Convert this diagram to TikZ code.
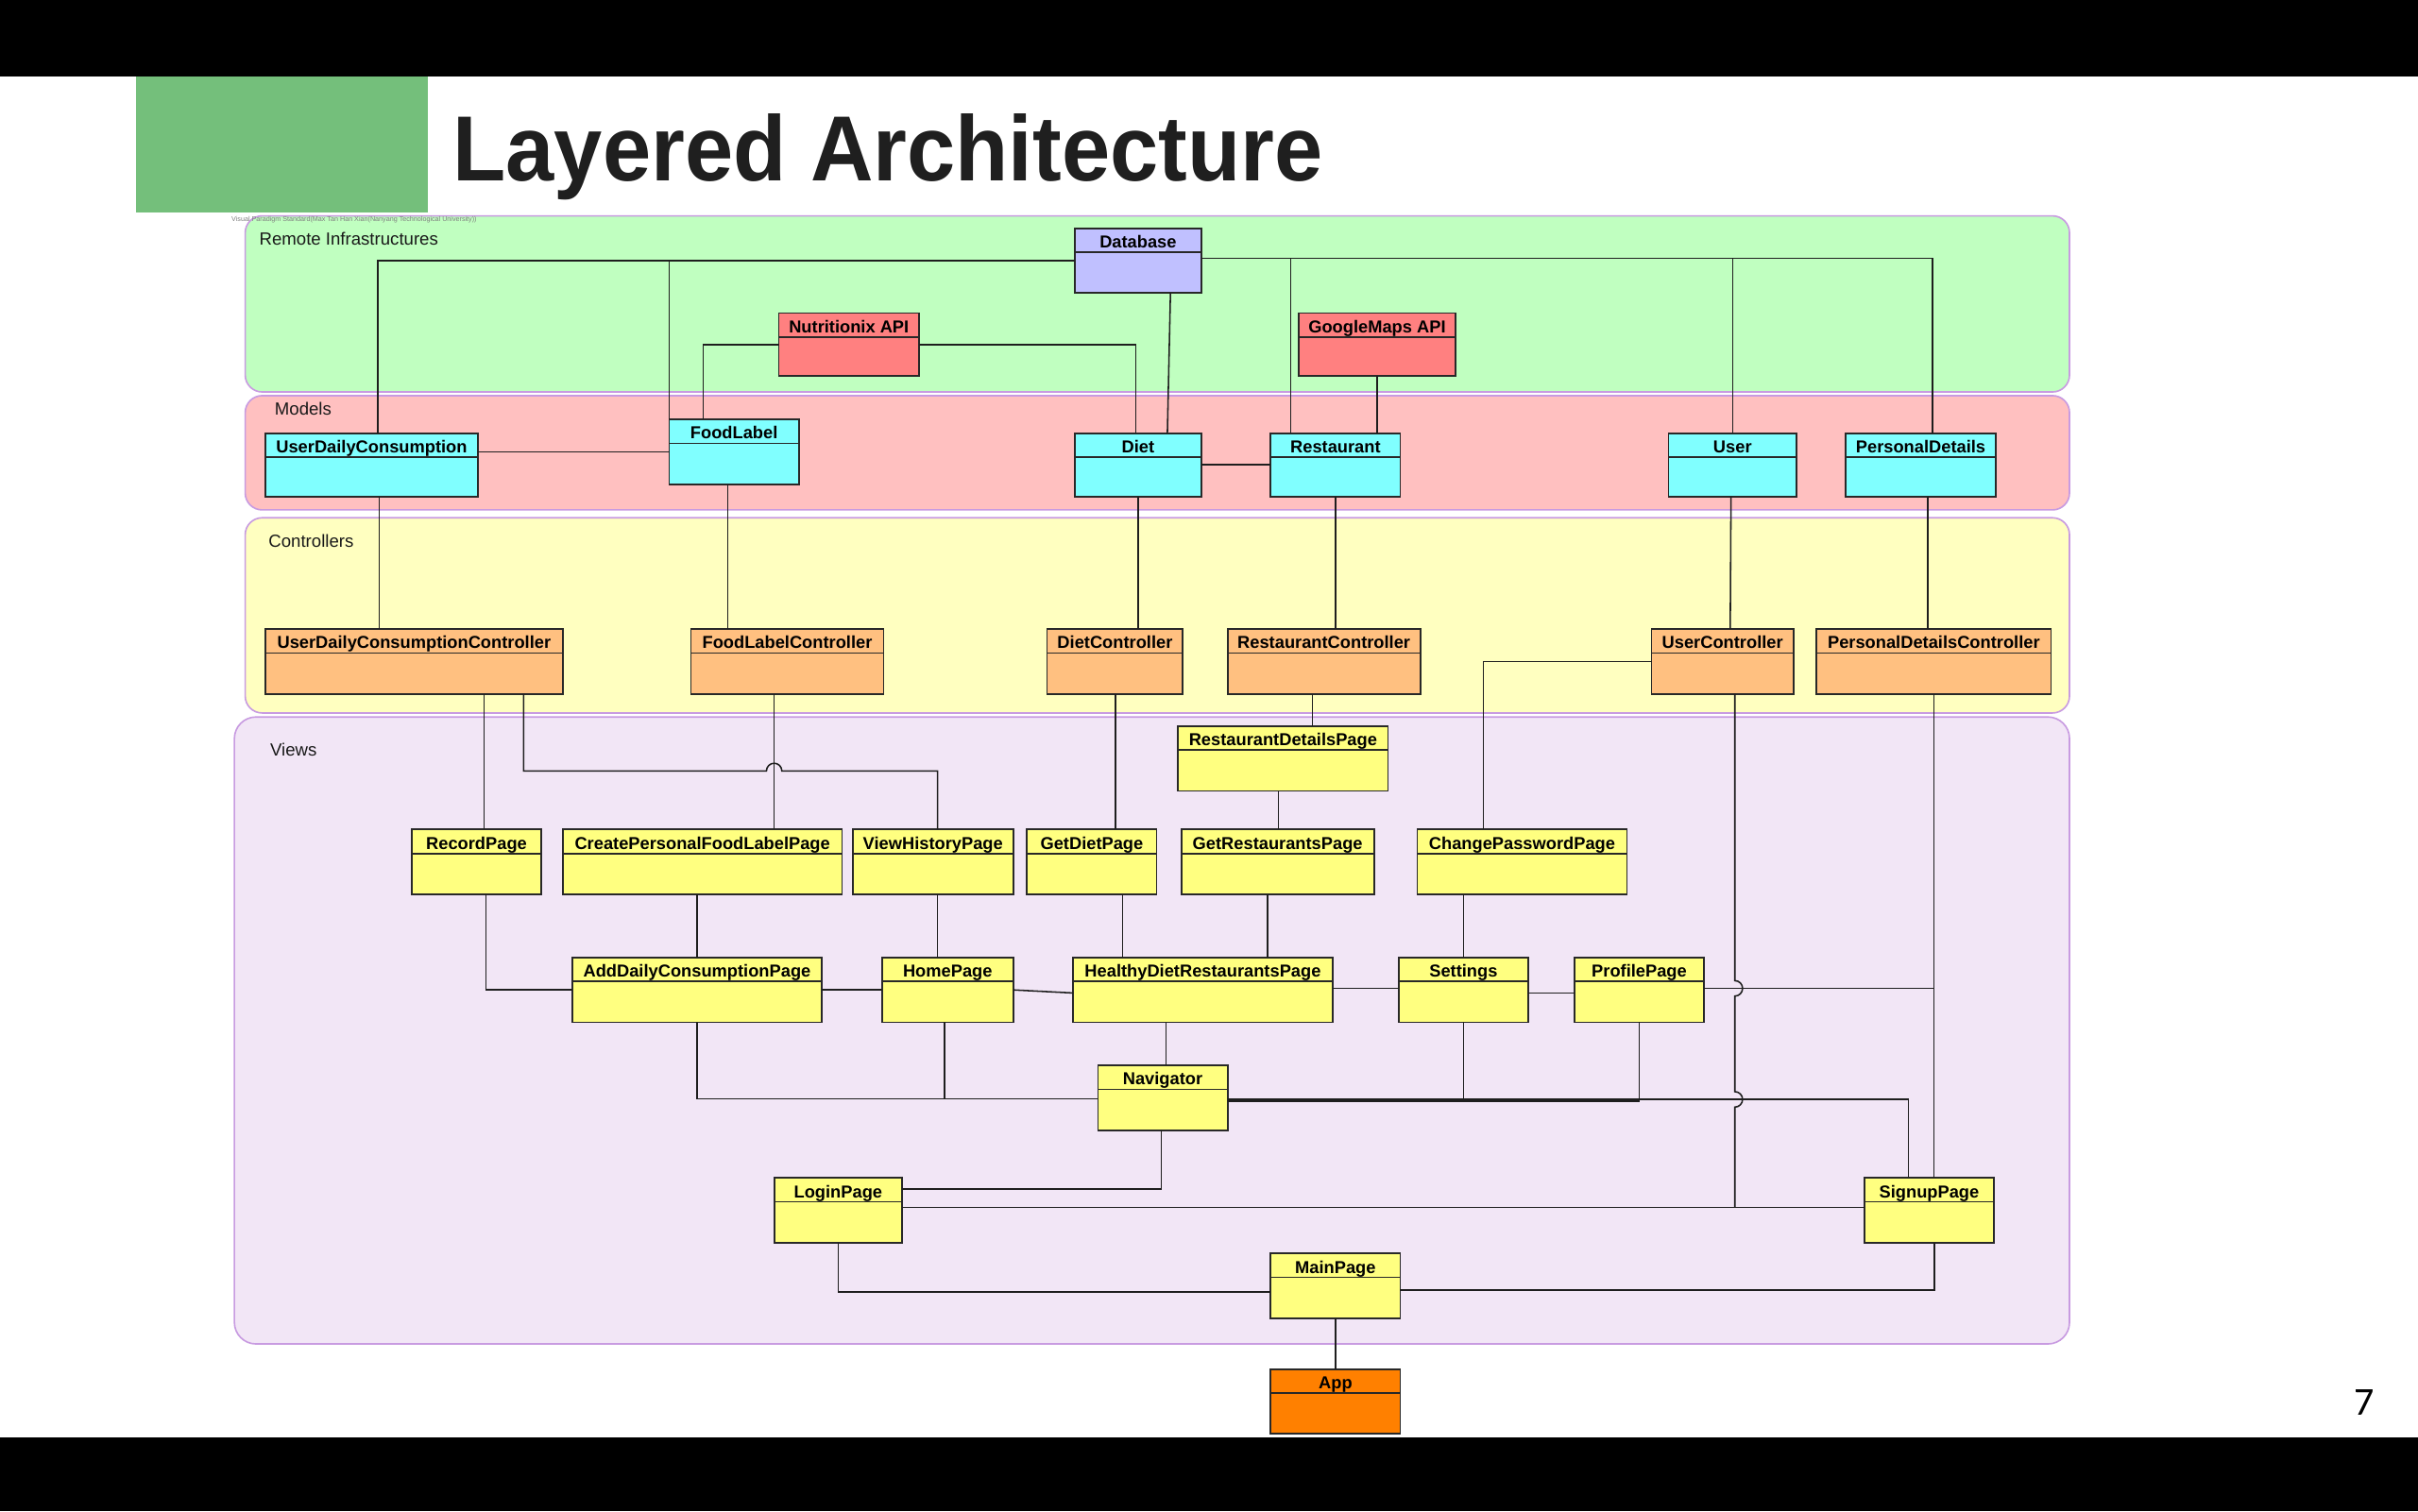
\documentclass[tikz,border=0pt]{standalone}
\usepackage{fontspec}
\setmainfont{Liberation Sans}
\newfontfamily\numfont{Carlito}
\usetikzlibrary{calc}
\definecolor{bandline}{RGB}{200,155,225}
\definecolor{remotefill}{RGB}{192,255,192}
\definecolor{modelsfill}{RGB}{255,192,192}
\definecolor{ctrlfill}{RGB}{255,255,192}
\definecolor{viewsfill}{RGB}{242,230,246}
\definecolor{dbfill}{RGB}{192,192,255}
\definecolor{apifill}{RGB}{255,128,128}
\definecolor{modelbox}{RGB}{128,255,255}
\definecolor{ctrlbox}{RGB}{255,192,128}
\definecolor{viewbox}{RGB}{255,255,128}
\definecolor{appbox}{RGB}{255,128,0}
\definecolor{titlegreen}{RGB}{116,191,123}
\definecolor{titletext}{RGB}{31,31,31}
\definecolor{boxline}{RGB}{40,40,40}
\definecolor{connline}{RGB}{30,30,30}

\tikzset{
  cls/.style={draw=boxline, line width=1.1pt, inner sep=0pt, outer sep=0pt, rectangle},
  conn/.style={draw=connline, line width=0.95pt},
  clslabel/.style={font=\fontsize{11.2}{13}\selectfont\bfseries, inner sep=0pt, text=black, anchor=base},
  band/.style={draw=bandline, line width=1pt},
  bandlabel/.style={font=\fontsize{11.4}{13}\selectfont, anchor=west, inner sep=0pt, text=black!90},
}

\newcommand{\umlclass}[7]{%
  \node[cls, fill=#6, anchor=north west, minimum width={#4-#2}, minimum height={#5-#3}] (#1) at (#2,#3) {};
  \draw[boxline, line width=1pt] ([yshift=-15.5pt]#1.north west) -- ([yshift=-15.5pt]#1.north east);
  \node[clslabel] (#1-lab) at ([yshift=-12.7pt]#1.north) {#7};
}

\begin{document}
\begin{tikzpicture}[x=1pt, y=-1pt]
\useasboundingbox (0,0) rectangle (1568,980);
\fill[white] (0,0) rectangle (1568,980);
% black bars
\fill[black] (0,0) rectangle (1568,49.6);
\fill[black] (0,932.2) rectangle (1568,980);
% title
\fill[titlegreen] (88.3,49.6) rectangle (277.2,137.8);
\node[anchor=base west, inner sep=0pt, text=titletext, font=\fontsize{60}{66}\selectfont\bfseries] (title) at (293.5,117.4) {\scalebox{0.94}[1]{Layered Architecture}};
\node[inner sep=0pt, font=\numfont\fontsize{25.7}{28}\selectfont] (pagenum) at (1533,909.5) {7};

% bands
\filldraw[band, fill=remotefill, rounded corners=11pt] (159,140) rectangle (1342,254.2);
\filldraw[band, fill=modelsfill, rounded corners=11pt] (159,256.6) rectangle (1342,330.7);
\filldraw[band, fill=ctrlfill, rounded corners=11pt] (159,335.8) rectangle (1342,462.4);
\filldraw[band, fill=viewsfill, rounded corners=14pt] (152,465) rectangle (1342,871.6);

\node[anchor=west, inner sep=0pt, text=gray, font=\fontsize{4.4}{5}\selectfont] (wm) at (150,142.5) {Visual Paradigm Standard(Max Tan Han Xian(Nanyang Technological University))};

\node[bandlabel] (lremote) at (168,155) {Remote Infrastructures};
\node[bandlabel] (lmodels) at (178,265) {Models};
\node[bandlabel] (lctrl) at (174,351) {Controllers};
\node[bandlabel] (lviews) at (175,486) {Views};

% remote
\umlclass{db}{697}{148}{779}{190}{dbfill}{Database}
\umlclass{nut}{505}{203}{596}{244}{apifill}{Nutritionix API}
\umlclass{gmap}{842}{203}{944}{244}{apifill}{GoogleMaps API}
% models
\umlclass{udc}{172}{281}{310}{322}{modelbox}{UserDailyConsumption}
\umlclass{fl}{434}{272}{518}{314}{modelbox}{FoodLabel}
\umlclass{diet}{697}{281}{779}{322}{modelbox}{Diet}
\umlclass{rest}{824}{281}{908}{322}{modelbox}{Restaurant}
\umlclass{user}{1082}{281}{1165}{322}{modelbox}{User}
\umlclass{pd}{1197}{281}{1294}{322}{modelbox}{PersonalDetails}
% controllers
\umlclass{udcc}{172}{408}{365}{450}{ctrlbox}{UserDailyConsumptionController}
\umlclass{flc}{448}{408}{573}{450}{ctrlbox}{FoodLabelController}
\umlclass{dc}{679}{408}{767}{450}{ctrlbox}{DietController}
\umlclass{rc}{796}{408}{921}{450}{ctrlbox}{RestaurantController}
\umlclass{uc}{1071}{408}{1163}{450}{ctrlbox}{UserController}
\umlclass{pdc}{1178}{408}{1330}{450}{ctrlbox}{PersonalDetailsController}
% views
\umlclass{rdp}{764}{471}{900}{513}{viewbox}{RestaurantDetailsPage}
\umlclass{rp}{267}{538}{351}{580}{viewbox}{RecordPage}
\umlclass{cpflp}{365}{538}{546}{580}{viewbox}{CreatePersonalFoodLabelPage}
\umlclass{vhp}{553}{538}{657}{580}{viewbox}{ViewHistoryPage}
\umlclass{gdp}{666}{538}{750}{580}{viewbox}{GetDietPage}
\umlclass{grp}{766}{538}{891}{580}{viewbox}{GetRestaurantsPage}
\umlclass{cpp}{919}{538}{1055}{580}{viewbox}{ChangePasswordPage}
\umlclass{adcp}{371}{621}{533}{663}{viewbox}{AddDailyConsumptionPage}
\umlclass{hp}{572}{621}{657}{663}{viewbox}{HomePage}
\umlclass{hdrp}{696}{621}{864}{663}{viewbox}{HealthyDietRestaurantsPage}
\umlclass{set}{907}{621}{991}{663}{viewbox}{Settings}
\umlclass{prof}{1021}{621}{1105}{663}{viewbox}{ProfilePage}
\umlclass{nav}{712}{691}{796}{733}{viewbox}{Navigator}
\umlclass{login}{502}{764}{585}{806}{viewbox}{LoginPage}
\umlclass{signup}{1209}{764}{1293}{806}{viewbox}{SignupPage}
\umlclass{main}{824}{813}{908}{855}{viewbox}{MainPage}
\umlclass{app}{824}{888}{908}{930}{appbox}{App}

% remote connectors
\draw[conn] (db.west) -| ([xshift=4pt]udc.north);
\draw[conn] (db.west) -| (fl.north west);
\draw[conn] ([yshift=1.4pt]db.east) -| ([xshift=13pt]rest.north west);
\draw[conn] ([yshift=1.4pt]db.east) -| (user.north);
\draw[conn] ([yshift=1.4pt]db.east) -| ([xshift=7.5pt]pd.north);
\draw[conn] ([xshift=21pt]db.south) -- ([xshift=19pt]diet.north);
\draw[conn] (nut.west) -| ([xshift=22pt]fl.north west);
\draw[conn] (nut.east) -| ([xshift=-1.5pt]diet.north);
\draw[conn] (gmap.south) -- (gmap.south |- rest.north);
% models
\draw[conn] ([yshift=8.5pt]udc.east) -- (fl.west);
\draw[conn] (diet.east) -- (rest.west);
\draw[conn] ([xshift=5pt]udc.south) -- ([xshift=5pt]udc.south |- udcc.north);
\draw[conn] ([xshift=-4pt]fl.south) -- ([xshift=-4pt]fl.south |- flc.north);
\draw[conn] (diet.south) -- (diet.south |- dc.north);
\draw[conn] (rest.south) -- (rest.south |- rc.north);
\draw[conn] ([xshift=-1pt]user.south) -- ([xshift=5pt]uc.north);
\draw[conn] ([xshift=4.5pt]pd.south) -- ([xshift=4.5pt]pd.south |- pdc.north);
% controllers to views
\draw[conn] ([xshift=45.5pt]udcc.south) -- ([xshift=45.5pt]udcc.south |- rp.north);
\coordinate (hopA) at (502,500);
\draw[conn] ([xshift=71pt]udcc.south) |- ([xshift=-5pt]hopA) arc[start angle=180, end angle=0, radius=5pt] -| ([xshift=3pt]vhp.north);
\draw[conn] ([xshift=-8.5pt]flc.south) -- ([xshift=-8.5pt]flc.south |- cpflp.north);
\draw[conn] ([xshift=0.5pt]dc.south) -- ([xshift=0.5pt]dc.south |- gdp.north);
\draw[conn] ([xshift=-7.5pt]rc.south) -- ([xshift=-7.5pt]rc.south |- rdp.north);
\draw[conn] (uc.west) -| ([xshift=-25pt]cpp.north);
\coordinate (jLS) at (1125,783);
\coordinate (hopB) at (1125,641);
\coordinate (hopC) at (1125,713);
\draw[conn] ([xshift=8pt]uc.south) -- ([yshift=5pt]hopB) arc[start angle=90, end angle=-90, radius=5pt] -- ([yshift=5pt]hopC) arc[start angle=90, end angle=-90, radius=5pt] -- (jLS);
\draw[conn] ([yshift=2pt]login.east) -- ([yshift=2pt]signup.west);
\draw[conn] (pdc.south) -- (pdc.south |- signup.north);
\draw[conn] ([yshift=1pt]prof.east) -- ([yshift=1pt]prof.east -| pdc.south);
% views
\draw[conn] ([xshift=-3pt]rdp.south) -- ([xshift=-3pt]rdp.south |- grp.north);
\draw[conn] ([xshift=6pt]rp.south) |- (adcp.west);
\draw[conn] ([xshift=-3.5pt]cpflp.south) -- (adcp.north);
\draw[conn] ([xshift=3pt]vhp.south) -- ([xshift=3pt]vhp.south |- hp.north);
\draw[conn] ([xshift=20pt]gdp.south) -- ([xshift=20pt]gdp.south |- hdrp.north);
\draw[conn] ([xshift=-6.5pt]grp.south) -- ([xshift=-6.5pt]grp.south |- hdrp.north);
\draw[conn] (set.north |- cpp.south) -- (set.north);
\draw[conn] (adcp.east) -- (hp.west);
\draw[conn] (hp.east) -- ([yshift=-2pt]hdrp.west);
\draw[conn] ([yshift=1pt]hdrp.east) -- ([yshift=1pt]set.west);
\draw[conn] ([yshift=-2pt]set.east) -- ([yshift=-2pt]prof.west);
\draw[conn] ([xshift=-24pt]hdrp.south) -- ([xshift=-24pt]hdrp.south |- nav.north);
\draw[conn] (adcp.south) |- ([yshift=-0.5pt]nav.west);
\draw[conn] ([xshift=-2pt]hp.south) |- ([yshift=-0.5pt]nav.west);
\draw[conn] ([yshift=-2pt]nav.east) -| (set.south);
\draw[conn] ([yshift=-2pt]nav.east) -| (prof.south);
\draw[conn] ([yshift=-1pt]nav.east) -| ([xshift=-13.5pt]signup.north);
\draw[conn] ([xshift=-1pt]nav.south) |- ([yshift=14pt]login.east);
\draw[conn] (login.south) |- ([yshift=-4pt]main.west);
\draw[conn] ([xshift=3.5pt]signup.south) |- ([yshift=-2.5pt]main.east);
\draw[conn] (main.south) -- (app.north);
\end{tikzpicture}
\end{document}
